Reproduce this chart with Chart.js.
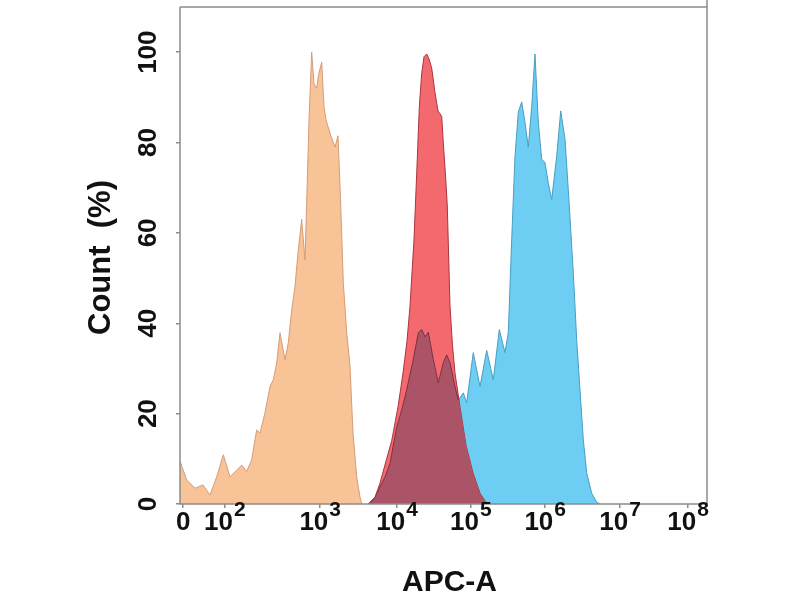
<!DOCTYPE html>
<html>
<head>
<meta charset="utf-8">
<script src="https://cdn.jsdelivr.net/npm/chart.js@4.4.1/dist/chart.umd.min.js"></script>
<style>
  html, body { margin: 0; padding: 0; background: #fff; }
  #wrap { width: 800px; height: 600px; }
</style>
</head>
<body>
<div id="wrap"><canvas id="c" width="800" height="600"></canvas></div>
<script>
// X axis is the transformed (biexponential-style) display scale, 0..100 display units.
const X_TICK_POS = [0.6, 8.5, 26.6, 41.2, 55.2, 69.3, 83.5, 96.4];
const X_TICK_LABELS = ['0', '10^2', '10^3', '10^4', '10^5', '10^6', '10^7', '10^8'];
const Y_TICKS = [0, 20, 40, 60, 80, 100];

// Control histogram (orange)
const ORANGE_X = [0, 1.27, 2.85, 4.36, 5.69, 6.96, 8.22, 9.49, 10.76, 11.71, 12.66, 13.6, 14.55, 15.18, 16.13, 17.08, 17.7, 18.35, 18.98, 19.92, 20.55, 21.2, 21.82, 22.45, 23.09, 23.72, 24.04, 24.48, 24.99, 25.43, 25.94, 26.28, 26.89, 27.32, 27.7, 28.65, 29.41, 29.98, 30.46, 30.99, 31.63, 32.26, 32.83, 33.53, 34.16, 34.5];
const ORANGE_Y = [9.5, 5.3, 3.5, 4.2, 2, 6, 10.9, 6, 7.5, 8.6, 7.2, 9.8, 16.4, 15.7, 20.2, 26, 27.5, 31.2, 37.9, 31.9, 35.7, 43, 48.2, 56.3, 63, 54, 67, 85, 100, 93, 92, 95, 97.8, 88, 85, 81.4, 79, 81.5, 67.4, 49, 38, 30.5, 15.7, 6, 1.5, 0];

// Red histogram
const RED_X = [35.67, 37.0, 37.95, 39.09, 40.17, 41.37, 42.32, 43.07, 43.64, 44.4, 44.91, 45.41, 45.86, 46.3, 46.81, 47.25, 47.76, 48.39, 48.96, 49.66, 49.96, 50.42, 50.72, 51.23, 51.71, 52.18, 53.13, 54.27, 55.6, 56.93, 58.25];
const RED_Y = [0, 1.5, 4.6, 9.5, 14, 21.5, 29, 36, 43.7, 58.5, 73, 87.8, 95.3, 99, 99.6, 98.5, 96.5, 91, 87, 85.8, 80, 72, 66, 44, 35, 29, 21.5, 13, 6.9, 2.4, 0];

// Blue histogram
const BLUE_X = [36.05, 37.0, 37.95, 38.9, 39.85, 41.12, 42.07, 43.02, 44.27, 45.22, 45.86, 46.49, 47.12, 48.06, 49.01, 49.96, 50.61, 51.23, 52.18, 52.81, 53.76, 54.4, 55.65, 56.93, 58.2, 59.45, 60.59, 61.67, 62.3, 62.94, 63.57, 64.19, 64.84, 65.46, 66.09, 66.74, 67.36, 67.99, 68.63, 69.26, 69.89, 70.53, 71.48, 72.24, 73.06, 73.68, 74.63, 75.27, 75.9, 76.53, 77.17, 78.12, 79.07, 79.7];
const BLUE_Y = [0, 1.5, 3.8, 6, 9, 17, 20.8, 25.3, 32, 37.9, 38.6, 37, 38, 32, 26.8, 31.3, 33, 31.3, 26, 23, 24.6, 22.4, 33.5, 26, 34, 27.5, 38.6, 33.5, 38, 58.5, 77, 86.7, 89, 84.5, 79, 88, 99.6, 84.5, 76.3, 75.6, 71, 67.4, 77, 87, 80.7, 69.6, 51.2, 36.4, 25.3, 14.2, 6.9, 2.4, 0.4, 0];

const COL_ORANGE = '#f8c396', COL_ORANGE_LINE = '#d59c76';
const COL_RED = '#f4696d', COL_RED_LINE = '#a8343f';
const COL_BLUE = '#6ecdf2', COL_BLUE_LINE = '#4a9dc2';
const COL_OVERLAP = '#ac5467', COL_OVERLAP_LINE = '#7a3243';
const FONT = '"Liberation Sans", Arial, Helvetica, sans-serif';

function pts(xs, ys) { return xs.map((x, i) => ({ x: x, y: ys[i] })); }

function areaPath(meta, y0) {
  const p = new Path2D();
  const d = meta.data;
  p.moveTo(d[0].x, y0);
  d.forEach(e => p.lineTo(e.x, e.y));
  p.lineTo(d[d.length - 1].x, y0);
  p.closePath();
  return p;
}
function linePath(meta) {
  const p = new Path2D();
  meta.data.forEach((e, i) => i ? p.lineTo(e.x, e.y) : p.moveTo(e.x, e.y));
  return p;
}

// Where the red and blue histograms overlap, the region is shown in a darker shade.
const overlapPlugin = {
  id: 'overlap',
  afterDatasetsDraw(chart) {
    const ctx = chart.ctx, ys = chart.scales.y, a = chart.chartArea;
    const y0 = ys.getPixelForValue(0);
    const red = chart.getDatasetMeta(1), blue = chart.getDatasetMeta(2);
    ctx.save();
    ctx.beginPath(); ctx.rect(a.left, a.top, a.right - a.left, a.bottom - a.top); ctx.clip();
    ctx.clip(areaPath(red, y0));
    ctx.fillStyle = COL_OVERLAP;
    ctx.fill(areaPath(blue, y0));
    ctx.strokeStyle = COL_OVERLAP_LINE; ctx.lineWidth = 1;
    ctx.stroke(linePath(blue));
    ctx.restore();
  }
};

const textPlugin = {
  id: 'texts',
  afterDraw(chart) {
    const ctx = chart.ctx, xs = chart.scales.x, ys = chart.scales.y, a = chart.chartArea;
    ctx.save();
    // frame
    ctx.strokeStyle = '#8c8c8c'; ctx.lineWidth = 1.5;
    ctx.beginPath();
    ctx.moveTo(a.left, a.top); ctx.lineTo(a.right, a.top);
    ctx.moveTo(a.right, 0); ctx.lineTo(a.right, a.bottom);
    ctx.moveTo(a.left, a.top); ctx.lineTo(a.left, a.bottom); ctx.lineTo(a.right, a.bottom);
    ctx.stroke();
    ctx.fillStyle = '#111';
    // x tick labels with superscript exponents
    X_TICK_POS.forEach((v, i) => {
      const px = xs.getPixelForValue(v);
      const parts = X_TICK_LABELS[i].split('^');
      ctx.font = 'bold 26px ' + FONT;
      const wb = ctx.measureText(parts[0]).width;
      let we = 0;
      if (parts[1]) { ctx.font = 'bold 21px ' + FONT; we = ctx.measureText(parts[1]).width + 1; }
      const x0 = px - (wb + we) / 2;
      ctx.textAlign = 'left'; ctx.textBaseline = 'alphabetic';
      ctx.font = 'bold 26px ' + FONT;
      ctx.fillText(parts[0], x0, 530);
      if (parts[1]) { ctx.font = 'bold 21px ' + FONT; ctx.fillText(parts[1], x0 + wb + 1, 516); }
    });
    // y tick labels, rotated
    ctx.font = 'bold 26px ' + FONT;
    ctx.textAlign = 'center'; ctx.textBaseline = 'middle';
    Y_TICKS.forEach(v => {
      const py = ys.getPixelForValue(v);
      ctx.save(); ctx.translate(149, py); ctx.rotate(-Math.PI / 2);
      ctx.fillText(String(v), 0, 0);
      ctx.restore();
    });
    // axis titles
    ctx.font = 'bold 30px ' + FONT;
    ctx.fillText('APC-A', (a.left + a.right) / 2 + 6, 583);
    ctx.font = 'bold 31px ' + FONT;
    ctx.save(); ctx.translate(101, (a.top + a.bottom) / 2 + 2); ctx.rotate(-Math.PI / 2);
    ctx.fillText('Count  (%)', 0, 0);
    ctx.restore();
    ctx.restore();
  }
};

new Chart(document.getElementById('c'), {
  type: 'line',
  data: {
    datasets: [
      { label: 'Control', data: pts(ORANGE_X, ORANGE_Y), order: 3, fill: 'origin',
        backgroundColor: COL_ORANGE, borderColor: COL_ORANGE_LINE, borderWidth: 1, pointRadius: 0, tension: 0 },
      { label: 'Red', data: pts(RED_X, RED_Y), order: 1, fill: 'origin',
        backgroundColor: COL_RED, borderColor: COL_RED_LINE, borderWidth: 1, pointRadius: 0, tension: 0 },
      { label: 'Blue', data: pts(BLUE_X, BLUE_Y), order: 2, fill: 'origin',
        backgroundColor: COL_BLUE, borderColor: COL_BLUE_LINE, borderWidth: 1, pointRadius: 0, tension: 0 }
    ]
  },
  options: {
    responsive: false,
    animation: false,
    layout: { padding: { top: 7, right: 93, left: 0, bottom: 0 } },
    plugins: { legend: { display: false }, tooltip: { enabled: false } },
    scales: {
      x: {
        type: 'linear', min: 0, max: 100,
        afterBuildTicks: s => { s.ticks = X_TICK_POS.map(v => ({ value: v })); },
        afterFit: s => { s.height = 96; },
        ticks: { display: false },
        grid: { display: true, drawOnChartArea: false, drawTicks: true, tickLength: 4, color: '#8c8c8c', lineWidth: 1.5 },
        border: { display: false }
      },
      y: {
        type: 'linear', min: 0, max: 110,
        afterBuildTicks: s => { s.ticks = Y_TICKS.map(v => ({ value: v })); },
        afterFit: s => { s.width = 180; },
        ticks: { display: false },
        grid: { display: true, drawOnChartArea: false, drawTicks: true, tickLength: 4, color: '#8c8c8c', lineWidth: 1.5 },
        border: { display: false }
      }
    }
  },
  plugins: [overlapPlugin, textPlugin]
});
</script>
</body>
</html>
